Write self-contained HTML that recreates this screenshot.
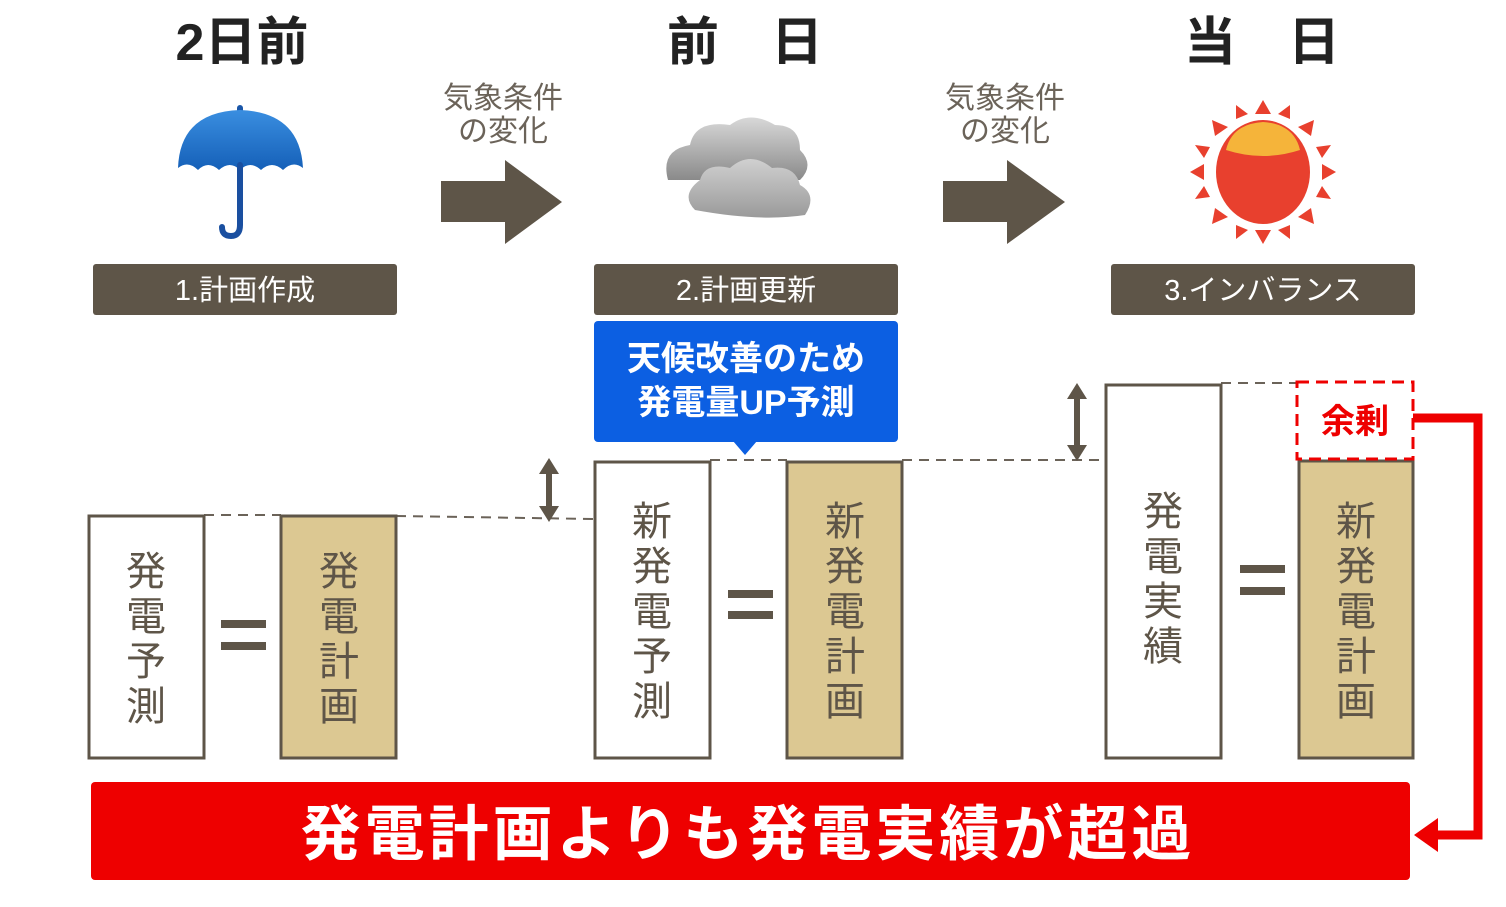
<!DOCTYPE html>
<html><head><meta charset="utf-8"><style>
html,body{margin:0;padding:0;background:#fff;}
svg{display:block;}
text{font-family:"Liberation Sans","Noto Sans CJK JP",sans-serif;}
</style></head><body>
<svg width="1506" height="907" viewBox="0 0 1506 907" xmlns="http://www.w3.org/2000/svg">
<defs>
<linearGradient id="ub" x1="0" y1="0" x2="0" y2="1"><stop offset="0" stop-color="#3a8ee0"/><stop offset="1" stop-color="#1560b8"/></linearGradient>
<linearGradient id="cg" x1="0" y1="0" x2="0" y2="1"><stop offset="0" stop-color="#d8d8d8"/><stop offset="1" stop-color="#8a8a8a"/></linearGradient>
<linearGradient id="cg2" x1="0" y1="0" x2="0" y2="1"><stop offset="0" stop-color="#d0d0d0"/><stop offset="1" stop-color="#9a9a9a"/></linearGradient>
</defs>
<g fill="#222" font-size="52" font-weight="bold" text-anchor="middle">
<text x="242" y="60">2日前</text>
<text x="745" y="60">前　日</text>
<text x="1262" y="60">当　日</text>
</g>
<g fill="#6b6359" font-size="30" text-anchor="middle">
<text x="503" y="108">気象条件</text><text x="503" y="141">の変化</text>
<text x="1005" y="108">気象条件</text><text x="1005" y="141">の変化</text>
</g>
<path d="M441 181 H505 V160 L562 202 L505 244 V222 H441Z" fill="#5e5548"/>
<path d="M943 181 H1007 V160 L1065 202 L1007 244 V222 H943Z" fill="#5e5548"/>
<g>
<rect x="237" y="105" width="6" height="10" rx="3" fill="#1a56a8"/>
<path d="M178 168 Q180 112 240 110 Q300 112 303 168 Q293 160 283 170 Q272 160 261 170 Q250 160 240 170 Q230 160 219 170 Q208 160 198 170 Q188 160 178 168Z" fill="url(#ub)"/>
<path d="M240 165 V225 Q240 236 231 236 Q222 236 222 227" fill="none" stroke="#1a4fa0" stroke-width="6" stroke-linecap="round"/>
</g>
<g>
<path d="M668 180 Q660 150 690 145 Q695 120 730 125 Q750 110 775 125 Q800 125 800 150 Q815 165 800 180Z" fill="url(#cg)"/>
<path d="M695 210 Q680 195 700 180 Q705 162 730 168 Q750 150 772 168 Q795 165 800 185 Q818 195 805 215 Q760 222 695 210Z" fill="url(#cg2)"/>
</g>
<g fill="#e8402e">
<ellipse cx="1263" cy="172" rx="47" ry="52"/>
<path d="M1263 100 l-8 14 h16z M1263 244 l-8 -14 h16z M1190 172 l14 -8 v16z M1336 172 l-14 -8 v16z M1212 120 l3 16 l13 -9z M1314 120 l-3 16 l-13 -9z M1212 224 l3 -16 l13 9z M1314 224 l-3 -16 l-13 9z M1236 105 l0 14 l12 -5z M1290 105 l0 14 l-12 -5z M1195 145 l15 2 l-6 11z M1331 145 l-15 2 l6 11z M1195 199 l15 -2 l-6 -11z M1331 199 l-15 -2 l6 -11z M1236 239 l0 -14 l12 5z M1290 239 l0 -14 l-12 5z"/>
</g>
<path d="M1226 150 Q1232 124 1263 122 Q1294 124 1300 150 Q1263 162 1226 150Z" fill="#f5b43a"/>
<g fill="#5e5548">
<rect x="93" y="264" width="304" height="51" rx="3"/>
<rect x="594" y="264" width="304" height="51" rx="3"/>
<rect x="1111" y="264" width="304" height="51" rx="3"/>
</g>
<g fill="#fff" font-size="29" text-anchor="middle">
<text x="245" y="300">1.計画作成</text>
<text x="746" y="300">2.計画更新</text>
<text x="1263" y="300">3.インバランス</text>
</g>
<rect x="594" y="321" width="304" height="121" rx="4" fill="#0c5fe2"/>
<path d="M733 441 L745 455 L757 441Z" fill="#0c5fe2"/>
<g fill="#fff" font-size="34" font-weight="bold" text-anchor="middle">
<text x="746" y="370">天候改善のため</text>
<text x="746" y="414">発電量UP予測</text>
</g>
<g stroke="#6b6359" stroke-width="2" stroke-dasharray="10 7" fill="none">
<path d="M204 515 L281 515"/><path d="M396 516 L595 519"/>
<path d="M710 460 L787 460"/><path d="M902 460 L1106 460"/>
<path d="M1221 383 L1297 383"/>
</g>
<g fill="#5e5548">
<rect x="546" y="470" width="6" height="40"/>
<path d="M549 458 L539 474 H559Z M549 522 L539 506 H559Z"/>
<rect x="1074" y="395" width="6" height="54"/>
<path d="M1077 383 L1067 399 H1087Z M1077 461 L1067 445 H1087Z"/>
</g>
<g stroke="#5e5548" stroke-width="3">
<rect x="89" y="516" width="115" height="242" fill="#fff"/>
<rect x="281" y="516" width="115" height="242" fill="#dcc892"/>
<rect x="595" y="462" width="115" height="296" fill="#fff"/>
<rect x="787" y="462" width="115" height="296" fill="#dcc892"/>
<rect x="1106" y="385" width="115" height="373" fill="#fff"/>
<rect x="1299" y="461" width="114" height="297" fill="#dcc892"/>
</g>
<rect x="1297" y="382" width="116" height="77" fill="none" stroke="#e00" stroke-width="3" stroke-dasharray="12 7"/>
<text x="1355" y="433" fill="#e00" font-size="34" font-weight="bold" text-anchor="middle">余剰</text>
<g fill="#5e5548">
<rect x="221" y="620" width="45" height="8"/><rect x="221" y="642" width="45" height="8"/>
<rect x="728" y="590" width="45" height="8"/><rect x="728" y="611" width="45" height="8"/>
<rect x="1240" y="565" width="45" height="8"/><rect x="1240" y="587" width="45" height="8"/>
</g>
<g fill="#5e5548" font-size="40" text-anchor="middle">
<text x="146" y="585">発</text><text x="146" y="630">電</text><text x="146" y="675">予</text><text x="146" y="720">測</text>
<text x="339" y="585">発</text><text x="339" y="630">電</text><text x="339" y="675">計</text><text x="339" y="720">画</text>
<text x="652" y="535">新</text><text x="652" y="580">発</text><text x="652" y="625">電</text><text x="652" y="670">予</text><text x="652" y="715">測</text>
<text x="845" y="535">新</text><text x="845" y="580">発</text><text x="845" y="625">電</text><text x="845" y="670">計</text><text x="845" y="715">画</text>
<text x="1163" y="525">発</text><text x="1163" y="570">電</text><text x="1163" y="615">実</text><text x="1163" y="660">績</text>
<text x="1356" y="535">新</text><text x="1356" y="580">発</text><text x="1356" y="625">電</text><text x="1356" y="670">計</text><text x="1356" y="715">画</text>
</g>
<rect x="91" y="782" width="1319" height="98" rx="4" fill="#ee0000"/>
<text x="748" y="855" fill="#fff" font-size="60" font-weight="bold" letter-spacing="4" text-anchor="middle">発電計画よりも発電実績が超過</text>
<path d="M1413 418 H1478 V835 H1432" fill="none" stroke="#ee0000" stroke-width="9"/>
<path d="M1414 835 L1438 818 V852Z" fill="#ee0000"/>
</svg>
</body></html>
